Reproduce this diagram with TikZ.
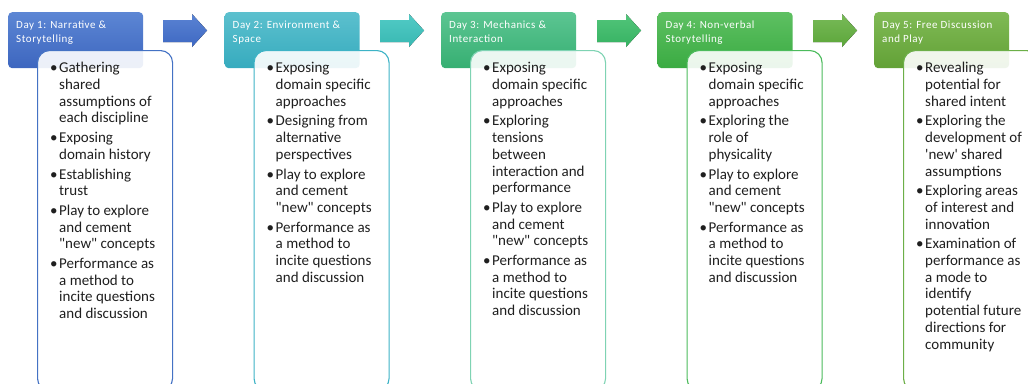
\documentclass[tikz,border=0pt]{standalone}
\usepackage{fontspec}
\setmainfont{Carlito}
\newfontfamily\headfont{Carlito}[LetterSpace=5]
\usetikzlibrary{calc}
\definecolor{hAt}{HTML}{5C86D4}\definecolor{hAb}{HTML}{3D66BF}
\definecolor{hBt}{HTML}{5CC0CE}\definecolor{hBb}{HTML}{36ABBE}
\definecolor{hCt}{HTML}{5CC592}\definecolor{hCb}{HTML}{36AF72}
\definecolor{hDt}{HTML}{5EC062}\definecolor{hDb}{HTML}{3AAB42}
\definecolor{hEt}{HTML}{80BA55}\definecolor{hEb}{HTML}{62A136}
\definecolor{bA}{HTML}{4472C4}\definecolor{bB}{HTML}{3DB3C6}
\definecolor{bC}{HTML}{7FD3B3}\definecolor{bD}{HTML}{4CBB5C}
\definecolor{bE}{HTML}{6CAF48}
\definecolor{aAt}{HTML}{5A83D3}\definecolor{aAb}{HTML}{3E68C2}
\definecolor{aBt}{HTML}{52CBC6}\definecolor{aBb}{HTML}{38B8B2}
\definecolor{aCt}{HTML}{52C57A}\definecolor{aCb}{HTML}{36B262}
\definecolor{aDt}{HTML}{78BA58}\definecolor{aDb}{HTML}{5CA63A}
\newcommand{\dq}{\XeTeXglyph\XeTeXcharglyph"22\relax}
\newcommand{\sq}{\XeTeXglyph\XeTeXcharglyph"27\relax}
\newcommand{\bul}{\makebox[9pt][l]{\textbullet}}
\newcommand{\blist}[1]{\begin{tabular}{@{}l@{}l@{}}#1\end{tabular}}
\newcommand{\hlist}[1]{\begin{tabular}{@{}l@{}}#1\end{tabular}}
\tikzset{
 headbox/.style={rectangle, rounded corners=4pt, minimum width=135pt, minimum height=56pt, inner sep=0pt, anchor=north west},
 bodybox/.style={rectangle, rounded corners=12pt, minimum width=135pt, minimum height=340pt, inner sep=0pt, anchor=north west, fill=white, fill opacity=0.9, line width=1.1pt},
 headtext/.style={anchor=north west, inner sep=0pt, text=white, font=\headfont\fontsize{11}{14}\selectfont},
 bodytext/.style={anchor=north west, inner sep=0pt, text=black!88, font=\fontsize{15}{16.7}\selectfont},
}
\newcommand{\arrowat}[3]{%
 \fill[top color=#2, bottom color=#3] (#1,20) -- (#1+29,20) -- (#1+29,14) -- (#1+44,30.5) -- (#1+29,47) -- (#1+29,42) -- (#1,42) -- cycle;}
\begin{document}
\begin{tikzpicture}[x=1pt,y=-1pt]
\useasboundingbox (0,0) rectangle (1028,383);
\clip (0,0) rectangle (1028,383);
% arrows
\arrowat{163}{aAt}{aAb}
\arrowat{380}{aBt}{aBb}
\arrowat{597}{aCt}{aCb}
\arrowat{813}{aDt}{aDb}
% headers
\node[headbox, top color=hAt, bottom color=hAb] (h1) at (8,12) {};
\node[headbox, top color=hBt, bottom color=hBb] (h2) at (224.5,12) {};
\node[headbox, top color=hCt, bottom color=hCb] (h3) at (441,12) {};
\node[headbox, top color=hDt, bottom color=hDb] (h4) at (657.5,12) {};
\node[headbox, top color=hEt, bottom color=hEb] (h5) at (874,12) {};
\node[headtext] (t1) at ($(h1.north west)+(8,6.2)$) {\hlist{Day 1: Narrative \&\\Storytelling}};
\node[headtext] (t2) at ($(h2.north west)+(8,6.2)$) {\hlist{Day 2: Environment \&\\Space}};
\node[headtext] (t3) at ($(h3.north west)+(8,6.2)$) {\hlist{Day 3: Mechanics \&\\Interaction}};
\node[headtext] (t4) at ($(h4.north west)+(8,6.2)$) {\hlist{Day 4: Non-verbal\\Storytelling}};
\node[headtext] (t5) at ($(h5.north west)+(8,6.2)$) {\hlist{Day 5: Free Discussion\\and Play}};
% bodies
\node[bodybox, draw=bA] (b1) at ($(h1.north west)+(29,38)$) {};
\node[bodybox, draw=bB] (b2) at ($(h2.north west)+(29,38)$) {};
\node[bodybox, draw=bC] (b3) at ($(h3.north west)+(29,38)$) {};
\node[bodybox, draw=bD] (b4) at ($(h4.north west)+(29,38)$) {};
\node[bodybox, draw=bE] (b5) at ($(h5.north west)+(29,38)$) {};
\node[bodytext] (l1) at ($(b1.north west)+(13,11)$) {\blist{%
\bul & Gathering\\ & shared\\ & assumptions of\\ & each discipline\\[3pt]
\bul & Exposing\\ & domain history\\[3pt]
\bul & Establishing\\ & trust\\[3pt]
\bul & Play to explore\\ & and cement\\ & \dq new\dq{} concepts\\[3pt]
\bul & Performance as\\ & a method to\\ & incite questions\\ & and discussion}};
\node[bodytext] (l2) at ($(b2.north west)+(13,11)$) {\blist{%
\bul & Exposing\\ & domain specific\\ & approaches\\[3pt]
\bul & Designing from\\ & alternative\\ & perspectives\\[3pt]
\bul & Play to explore\\ & and cement\\ & \dq new\dq{} concepts\\[3pt]
\bul & Performance as\\ & a method to\\ & incite questions\\ & and discussion}};
\node[bodytext] (l3) at ($(b3.north west)+(13,11)$) {\blist{%
\bul & Exposing\\ & domain specific\\ & approaches\\[3pt]
\bul & Exploring\\ & tensions\\ & between\\ & interaction and\\ & performance\\[3pt]
\bul & Play to explore\\ & and cement\\ & \dq new\dq{} concepts\\[3pt]
\bul & Performance as\\ & a method to\\ & incite questions\\ & and discussion}};
\node[bodytext] (l4) at ($(b4.north west)+(13,11)$) {\blist{%
\bul & Exposing\\ & domain specific\\ & approaches\\[3pt]
\bul & Exploring the\\ & role of\\ & physicality\\[3pt]
\bul & Play to explore\\ & and cement\\ & \dq new\dq{} concepts\\[3pt]
\bul & Performance as\\ & a method to\\ & incite questions\\ & and discussion}};
\node[bodytext] (l5) at ($(b5.north west)+(13,11)$) {\blist{%
\bul & Revealing\\ & potential for\\ & shared intent\\[3pt]
\bul & Exploring the\\ & development of\\ & \sq new\sq{} shared\\ & assumptions\\[3pt]
\bul & Exploring areas\\ & of interest and\\ & innovation\\[3pt]
\bul & Examination of\\ & performance as\\ & a mode to\\ & identify\\ & potential future\\ & directions for\\ & community}};
\end{tikzpicture}
\end{document}
